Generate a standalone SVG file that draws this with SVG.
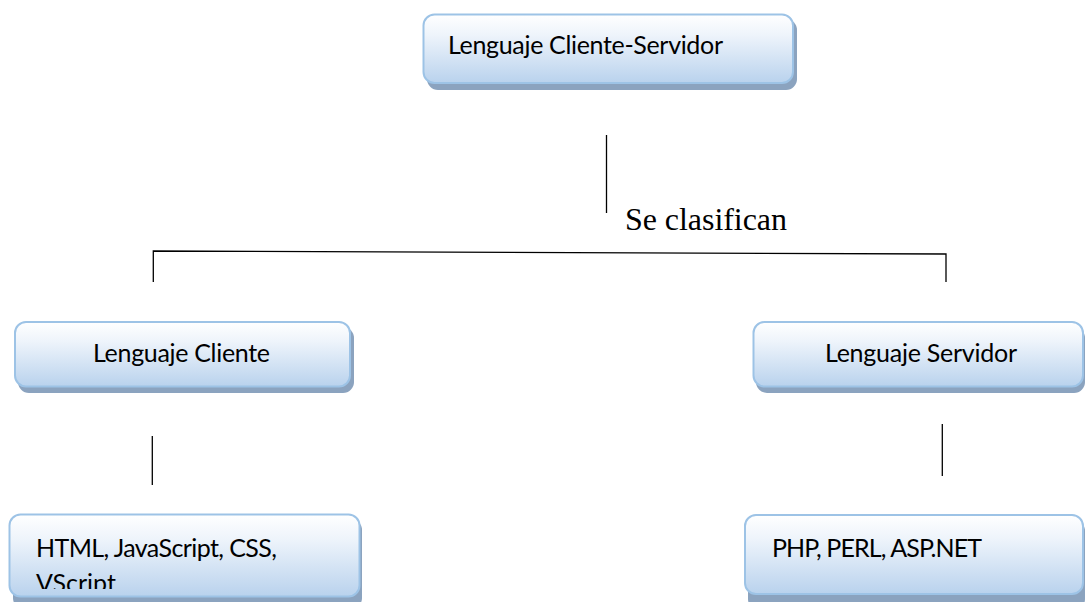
<svg xmlns="http://www.w3.org/2000/svg" width="1085" height="602" viewBox="0 0 1085 602">
<defs>
<linearGradient id="g" x1="0" y1="0" x2="0" y2="1">
<stop offset="0" stop-color="#ffffff"/>
<stop offset="0.3" stop-color="#eef4fb"/>
<stop offset="1" stop-color="#b9d2ed"/>
</linearGradient>
<clipPath id="c1"><rect x="10" y="514" width="348" height="75"/></clipPath>
</defs>
<style>
.sh{fill:#8ba3bf}
.bx{fill:url(#g);stroke:#9dc3e6;stroke-width:2}
.t{font-family:Lato,"Open Sans","Liberation Sans",sans-serif;font-size:25px;fill:#000}
.ln{stroke:#000;stroke-width:1.3;fill:none}
.lb{font-family:"Liberation Serif","Times New Roman",serif;font-size:32px;fill:#000}
</style>
<rect width="1085" height="602" fill="#fff"/>
<g id="connectors">
<line class="ln" x1="606.5" y1="135" x2="606.5" y2="213"/>
<polyline class="ln" points="153.3,282 153.3,251 946,254 946,282"/>
<line class="ln" x1="152.3" y1="436" x2="152.3" y2="485"/>
<line class="ln" x1="942.3" y1="424" x2="942.3" y2="476"/>
<text class="lb" x="625" y="230" textLength="162">Se clasifican</text>
</g>
<g id="node-cliente-servidor">
<rect class="sh" x="427" y="19" width="370" height="71" rx="11"/>
<rect class="bx" x="423.5" y="14.5" width="369.5" height="68.5" rx="11"/>
<text class="t" x="448" y="54" textLength="275">Lenguaje Cliente-Servidor</text>
</g>
<g id="node-cliente">
<rect class="sh" x="18" y="327" width="336" height="66" rx="11"/>
<rect class="bx" x="15" y="322" width="335" height="64.5" rx="11"/>
<text class="t" x="93" y="362" textLength="177">Lenguaje Cliente</text>
</g>
<g id="node-servidor">
<rect class="sh" x="756" y="327" width="329" height="66" rx="11"/>
<rect class="bx" x="753.5" y="322" width="329.5" height="64.5" rx="11"/>
<text class="t" x="825" y="362" textLength="192">Lenguaje Servidor</text>
</g>
<g id="node-lenguajes-cliente">
<rect class="sh" x="13" y="519" width="349" height="90" rx="11"/>
<rect class="bx" x="9.5" y="514.5" width="350" height="82" rx="11"/>
<g clip-path="url(#c1)">
<text class="t" x="36" y="557"><tspan textLength="241">HTML, JavaScript, CSS,</tspan><tspan x="36" y="592">VScript</tspan></text>
</g>
</g>
<g id="node-lenguajes-servidor">
<rect class="sh" x="748" y="520" width="337" height="90" rx="11"/>
<rect class="bx" x="745" y="515" width="338" height="79" rx="11"/>
<text class="t" x="772" y="557" textLength="210">PHP, PERL, ASP.NET</text>
</g>
</svg>
